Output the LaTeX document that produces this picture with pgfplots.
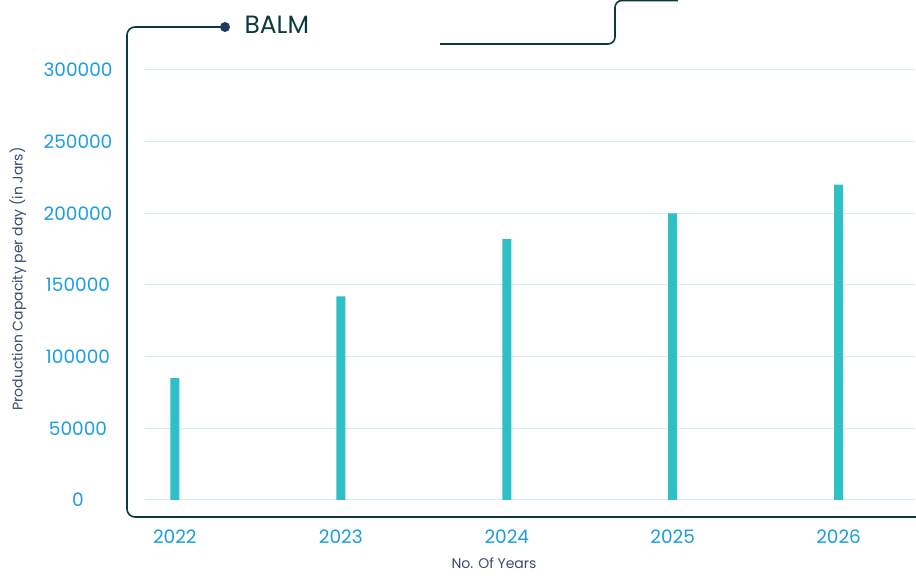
\documentclass[border=0pt]{standalone}
\usepackage{fontspec}
\setmainfont{Poppins}
\usepackage{pgfplots}
\pgfplotsset{compat=1.18}
\definecolor{framec}{HTML}{0B3A3A}
\definecolor{dotc}{HTML}{1F3A60}
\definecolor{barc}{HTML}{2EC0C4}
\definecolor{gridc}{HTML}{D3EEF2}
\definecolor{tickc}{HTML}{1B9DE0}
\definecolor{labc}{HTML}{3B4A73}
\begin{document}
\begin{tikzpicture}[x=1pt,y=1pt]
\useasboundingbox (0,0) rectangle (916,581);
\begin{axis}[
  at={(145pt,81pt)}, anchor=south west,
  scale only axis, width=770pt, height=430pt,
  xmin=-0.18, xmax=4.46, ymin=0, ymax=300000,
  axis line style={draw=none},
  major tick length=0pt,
  ymajorgrids, grid style={gridc, line width=1pt},
  xtick={0,1,2,3,4},
  xticklabels={2022,2023,2024,2025,2026},
  ytick={0,50000,100000,150000,200000,250000,300000},
  yticklabels={0,50000,100000,150000,200000,250000,300000},
  scaled y ticks=false,
  ticklabel style={font=\fontsize{18.5}{22}\selectfont, text=tickc},
  xticklabel style={anchor=center, yshift=-37pt},
  yticklabel style={anchor=center, xshift=-67pt},
  clip=false,
]
\addplot[ybar, bar width=9pt, fill=barc, draw=none] coordinates {
  (0,85000) (1,142000) (2,182000) (3,200000) (4,220000)
};
\end{axis}
\draw[framec, line width=1.6pt, rounded corners=8pt] (225,554) -- (127,554) -- (127,64) -- (916,64);
\fill[dotc] (225,554) circle (5pt);
\draw[framec, line width=1.6pt, rounded corners=7pt] (440,537) -- (615,537) -- (615,580.5) -- (678,580.5);
\node[anchor=west, text=framec, font=\fontsize{25}{30}\selectfont] at (241,556) {BALM};
\node[rotate=90, text=labc, font=\fontsize{14}{17}\selectfont] at (18,302) {Production Capacity per day (in Jars)};
\node[text=labc, font=\fontsize{14}{17}\selectfont] at (494,18) {No. Of Years};
\end{tikzpicture}
\end{document}
